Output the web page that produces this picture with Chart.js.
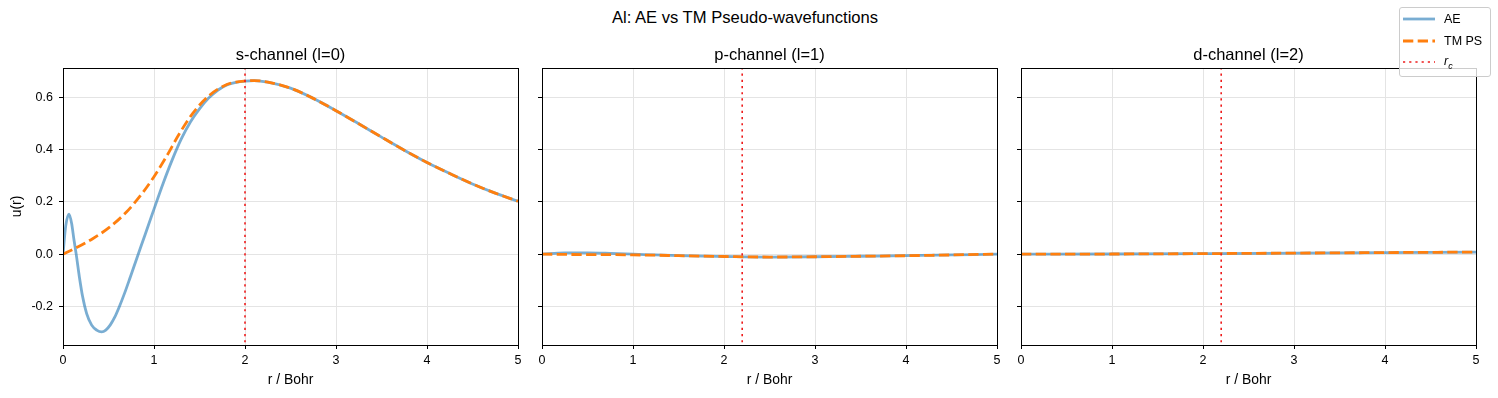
<!DOCTYPE html>
<html>
<head>
<meta charset="utf-8">
<script src="https://cdn.jsdelivr.net/npm/chart.js@4/dist/chart.umd.min.js"></script>
<style>
  body { margin: 0; background: #fff; font-family: "Liberation Sans", Arial, sans-serif; }
  #wrap { position: relative; width: 1498px; height: 398px; overflow: hidden; }
  canvas { position: absolute; top: 0; }
  #suptitle { position: absolute; left: 0; width: 1490px; top: 8px; text-align: center; font-size: 16.6px; line-height: 20px; color: #000; }
  #legend { position: absolute; left: 1399px; top: 7px; width: 90px; height: 68px; border: 1px solid #cccccc; border-radius: 3px; background: rgba(255,255,255,0.8); z-index: 5; }
  .item { position: absolute; left: 3px; height: 20px; display: flex; align-items: center; font-size: 12.5px; }
  .item svg { width: 32px; height: 6px; margin-right: 9px; }
</style>
</head>
<body>
<div id="wrap">
  <div id="suptitle">Al: AE vs TM Pseudo-wavefunctions</div>
  <canvas id="chartS" width="530" height="398" style="left:0px"></canvas>
  <canvas id="chartP" width="479" height="398" style="left:530px"></canvas>
  <canvas id="chartD" width="479" height="398" style="left:1009px"></canvas>
  <div id="legend">
    <div class="item" style="top:1px"><svg><line x1="0" y1="3" x2="32" y2="3" stroke="rgba(31,119,180,0.6)" stroke-width="2.8"/></svg>AE</div>
    <div class="item" style="top:23px"><svg><line x1="0" y1="3" x2="32" y2="3" stroke="#ff7f0e" stroke-width="2.8" stroke-dasharray="10.3 4.4"/></svg>TM PS</div>
    <div class="item" style="top:44px"><svg><line x1="0" y1="3" x2="32" y2="3" stroke="#ee1c1c" stroke-width="1.6" stroke-dasharray="2.2 4"/></svg><i>r<sub style="font-size:9px">c</sub></i></div>
  </div>
</div>
<script>
// DATA
const yTicks = [-0.2, 0.0, 0.2, 0.4, 0.6];
const xTicks = [0, 1, 2, 3, 4, 5];
const titles = ["s-channel (l=0)", "p-channel (l=1)", "d-channel (l=2)"];
const cutoffs = [2.0, 2.2, 2.2];

// s-channel
const rS  = [0, 0.03, 0.066, 0.095, 0.12, 0.145, 0.18, 0.216, 0.26, 0.315, 0.37, 0.425, 0.47, 0.52, 0.57, 0.62, 0.68, 0.74, 0.8, 0.86, 0.94, 1.0, 1.1, 1.2, 1.3, 1.4, 1.5, 1.6, 1.7, 1.8, 1.9, 2.0, 2.1, 2.25, 2.5, 2.75, 3.0, 3.25, 3.5, 3.75, 4.0, 4.25, 4.5, 4.75, 5.0];
const aeS = [0, 0.108, 0.153, 0.117, 0.056, 0.0, -0.087, -0.163, -0.227, -0.271, -0.29, -0.297, -0.29, -0.27, -0.24, -0.2, -0.146, -0.087, -0.027, 0.033, 0.112, 0.172, 0.27, 0.36, 0.44, 0.505, 0.555, 0.596, 0.626, 0.646, 0.656, 0.661, 0.663, 0.657, 0.634, 0.595, 0.548, 0.498, 0.447, 0.397, 0.35, 0.308, 0.268, 0.233, 0.202];
const rSps = [0, 0.15, 0.33, 0.516, 0.7, 0.883, 1.0, 1.135, 1.28, 1.43, 1.61, 1.8, 1.9, 2.0, 2.1, 2.25, 2.5, 2.75, 3.0, 3.25, 3.5, 3.75, 4.0, 4.25, 4.5, 4.75, 5.0];
const psS = [0, 0.025, 0.06, 0.104, 0.162, 0.238, 0.296, 0.372, 0.461, 0.54, 0.607, 0.648, 0.657, 0.661, 0.663, 0.657, 0.634, 0.595, 0.548, 0.498, 0.447, 0.397, 0.35, 0.308, 0.268, 0.233, 0.202];

// p-channel
const rP  = [0, 0.25, 0.5, 0.75, 1.0, 1.25, 1.5, 2.0, 2.5, 3.0, 3.5, 4.0, 4.5, 5.0];
const aeP = [0, 0.005, 0.005, 0.003, 0.0, -0.003, -0.006, -0.009, -0.011, -0.010, -0.008, -0.006, -0.003, 0.0];
const psP = [0, -0.001, -0.002, -0.002, -0.003, -0.004, -0.006, -0.009, -0.011, -0.010, -0.008, -0.006, -0.003, 0.0];

// d-channel
const rD  = [0, 1.0, 2.0, 3.0, 4.0, 5.0];
const aeD = [0, 0.0005, 0.002, 0.004, 0.006, 0.008];
const psD = [0, 0.0005, 0.002, 0.004, 0.006, 0.008];

const yMin = -0.347;
const yMax = 0.711;

// FRAME PLUGIN (box around axes)
const framePlugin = {
    id: "frame",
    afterDatasetsDraw(chart) {
        const a = chart.chartArea;
        const ctx = chart.ctx;
        ctx.save();
        ctx.strokeStyle = "#000";
        ctx.lineWidth = 1;
        ctx.strokeRect(Math.round(a.left) + 0.5, Math.round(a.top) + 0.5, Math.round(a.right - a.left), Math.round(a.bottom - a.top));
        ctx.restore();
    }
};

function toPoints(xs, ys) {
    return xs.map((x, i) => ({ x: x, y: ys[i] }));
}

// PANEL
function makePanel(id, rAe, ae, rPs, ps, rc, title, first) {
    return new Chart(document.getElementById(id), {
        type: "line",
        data: {
            datasets: [
                {
                    label: "r_c",
                    data: [{ x: rc, y: -1 }, { x: rc, y: 1 }],
                    borderColor: "#ee1c1c",
                    borderWidth: 1.6,
                    borderDash: [2.2, 4],
                    pointRadius: 0
                },
                {
                    label: "TM PS",
                    data: toPoints(rPs, ps),
                    borderColor: "#ff7f0e",
                    borderWidth: 2.8,
                    borderDash: [10.3, 4.4],
                    pointRadius: 0,
                    cubicInterpolationMode: "monotone"
                },
                {
                    label: "AE",
                    data: toPoints(rAe, ae),
                    borderColor: "rgba(31,119,180,0.6)",
                    borderWidth: 2.8,
                    pointRadius: 0,
                    cubicInterpolationMode: "monotone"
                }
            ]
        },
        options: {
            responsive: false,
            animation: false,
            layout: { padding: { left: 0, right: 12, top: 0, bottom: 0 } },
            plugins: {
                legend: { display: false },
                tooltip: { enabled: false },
                title: {
                    display: true,
                    text: title,
                    fullSize: false,
                    color: "#000",
                    font: { family: "Liberation Sans", size: 16.5, weight: "normal" },
                    padding: { top: 46, bottom: 2.2 }
                }
            },
            scales: {
                x: {
                    type: "linear",
                    min: 0,
                    max: 5,
                    afterFit: s => { s.height = 53; },
                    afterBuildTicks: s => { s.ticks = xTicks.map(v => ({ value: v })); },
                    ticks: { color: "#000", font: { family: "Liberation Sans", size: 12.5 }, padding: 4, maxRotation: 0 },
                    grid: { color: "#e4e4e4", lineWidth: 1, tickLength: 4, tickColor: "#000", tickWidth: 1 },
                    border: { color: "#000", width: 1 },
                    title: {
                        display: true,
                        text: "r / Bohr",
                        color: "#000",
                        font: { family: "Liberation Sans", size: 13.9 },
                        padding: { top: 0, bottom: 9.7 }
                    }
                },
                y: {
                    type: "linear",
                    min: yMin,
                    max: yMax,
                    afterFit: s => { s.width = first ? 63 : 12; },
                    afterBuildTicks: s => { s.ticks = yTicks.map(v => ({ value: v })); },
                    ticks: {
                        display: first,
                        color: "#000",
                        font: { family: "Liberation Sans", size: 12.5 },
                        padding: 6,
                        callback: v => v.toFixed(1)
                    },
                    grid: { color: "#e4e4e4", lineWidth: 1, tickLength: 4, tickColor: "#000", tickWidth: 1 },
                    border: { color: "#000", width: 1 },
                    title: {
                        display: first,
                        text: "u(r)",
                        color: "#000",
                        font: { family: "Liberation Sans", size: 13.9 },
                        padding: { top: 8.7, bottom: 0 }
                    }
                }
            }
        },
        plugins: [framePlugin]
    });
}

makePanel("chartS", rS, aeS, rSps, psS, cutoffs[0], titles[0], true);
makePanel("chartP", rP, aeP, rP, psP, cutoffs[1], titles[1], false);
makePanel("chartD", rD, aeD, rD, psD, cutoffs[2], titles[2], false);
</script>
</body>
</html>
